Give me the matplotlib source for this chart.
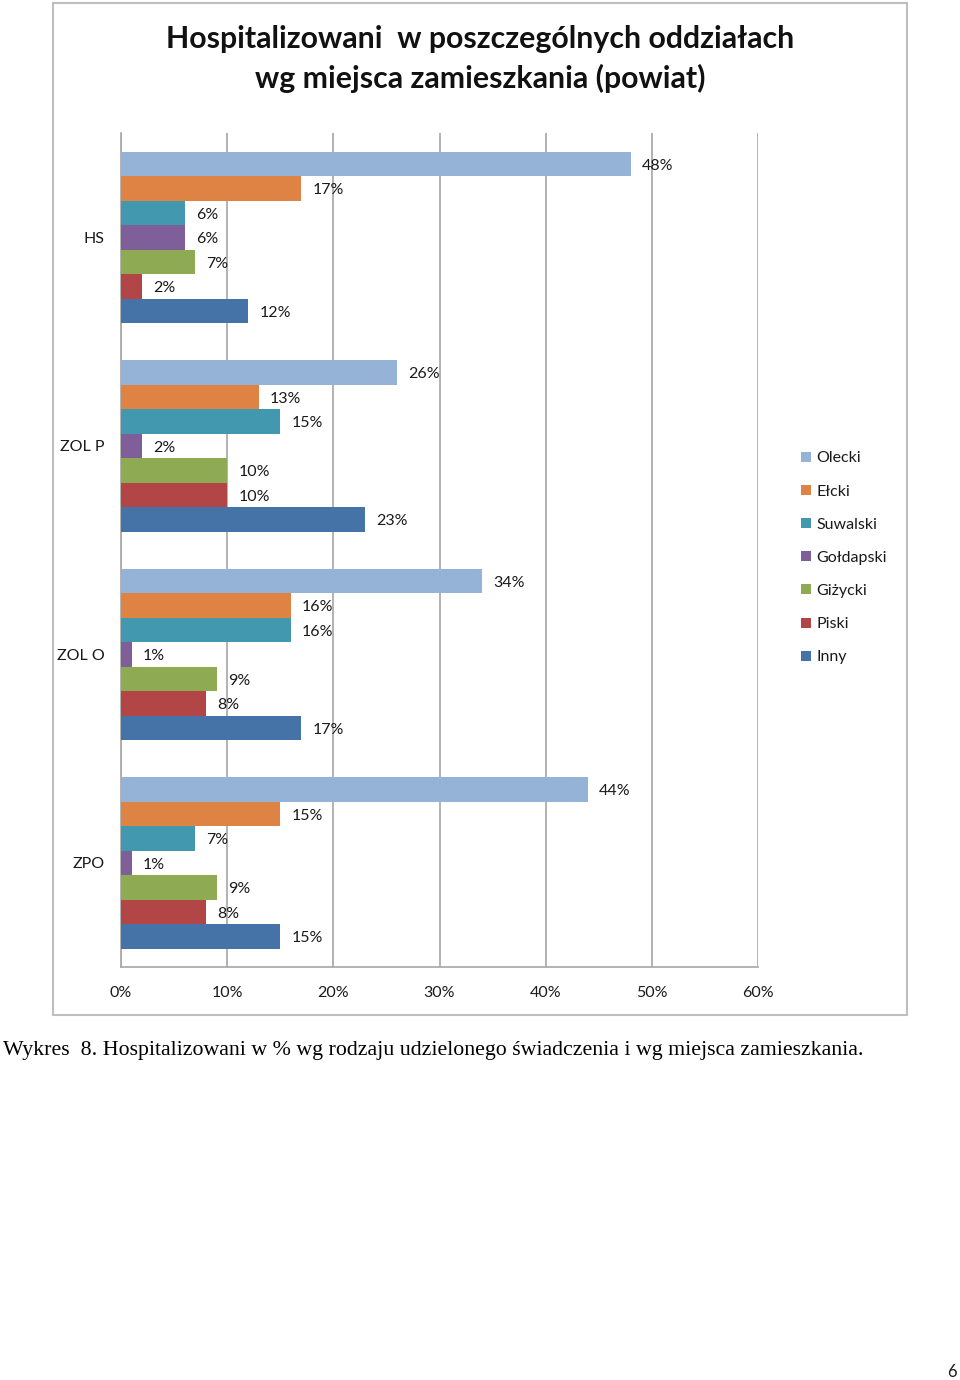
import matplotlib
matplotlib.use("Agg")
import matplotlib.pyplot as plt
from matplotlib.patches import Rectangle, Patch
import numpy as np

categories = ["HS", "ZOL P", "ZOL O", "ZPO"]
series = ["Olecki", "Ełcki", "Suwalski", "Gołdapski", "Giżycki", "Piski", "Inny"]
values = {
    "Olecki":    [48, 26, 34, 44],
    "Ełcki":     [17, 13, 16, 15],
    "Suwalski":  [6, 15, 16, 7],
    "Gołdapski": [6, 2, 1, 1],
    "Giżycki":   [7, 10, 9, 9],
    "Piski":     [2, 10, 8, 8],
    "Inny":      [12, 23, 17, 15],
}
colors = ["#95B3D7", "#DE8344", "#4198AF", "#7F5F9A", "#8EAA52", "#B24646", "#4572A7"]
xticks = [0, 10, 20, 30, 40, 50, 60]
title = "Hospitalizowani  w poszczególnych oddziałach\nwg miejsca zamieszkania (powiat)"
caption = "Wykres  8. Hospitalizowani w % wg rodzaju udzielonego świadczenia i wg miejsca zamieszkania."

W, H = 960, 1380
fig = plt.figure(figsize=(W / 100, H / 100), dpi=100)
plt.rcParams['font.family'] = ['Lato', 'DejaVu Sans']

def fx(px):
    return px / W

def fy(py):
    return 1 - py / H

# outer frame
fig.patches.append(Rectangle((fx(53), fy(1015)), fx(907) - fx(53), fy(3) - fy(1015),
                             transform=fig.transFigure, fill=False, edgecolor="#BFBFBF", lw=1.5))

ax = fig.add_axes([fx(121), fy(967), fx(758) - fx(121), fy(133) - fy(967)])
ax.set_xlim(0, 60)
ax.set_ylim(3.5, -0.5)

n = len(series)
h = 24.5 / 208.5
ypos = np.arange(len(categories))
for i, s in enumerate(series):
    off = (i - (n - 1) / 2) * h
    ax.barh(ypos + off, values[s], height=h, color=colors[i], zorder=3)
    for y, v in zip(ypos + off, values[s]):
        ax.annotate(f"{v}%", (v, y), xytext=(8, -1.5), textcoords="offset points",
                    va="center", ha="left", fontsize=11.5, color="#1a1a1a")

ax.set_xticks(xticks)
ax.set_xticklabels([f"{t}%" for t in xticks], fontsize=11.5, color="#1a1a1a")
ax.set_yticks(ypos)
ax.set_yticklabels(categories, fontsize=11.5, color="#1a1a1a")
ax.tick_params(axis="both", length=0)
ax.tick_params(axis="x", pad=14)
ax.tick_params(axis="y", pad=12)
ax.grid(axis="x", color="#A6A6A6", lw=1.2, zorder=0)
for sp in ["top", "right"]:
    ax.spines[sp].set_visible(False)
for sp in ["left", "bottom"]:
    ax.spines[sp].set_color("#A6A6A6")
    ax.spines[sp].set_linewidth(1.2)

handles = [Patch(facecolor=c, edgecolor="none") for c in colors]
fig.legend(handles, series, loc="upper left", bbox_to_anchor=(fx(787), fy(437)),
           frameon=False, fontsize=11.5, handlelength=0.6, handleheight=0.6,
           handletextpad=0.35, labelspacing=1.2, labelcolor="#1a1a1a")

fig.text(fx(480), fy(59), title, ha="center", va="center", fontsize=21.8, fontweight="bold",
         linespacing=1.45, color="#111111")

fig.text(fx(3), fy(1050), caption, ha="left", va="center", fontsize=15.75,
         family=["Liberation Serif", "DejaVu Serif"], color="black")
fig.text(fx(952), fy(1372), "6", ha="center", va="center", fontsize=12, color="#1a1a1a")

fig.savefig("out.png", dpi=100)
